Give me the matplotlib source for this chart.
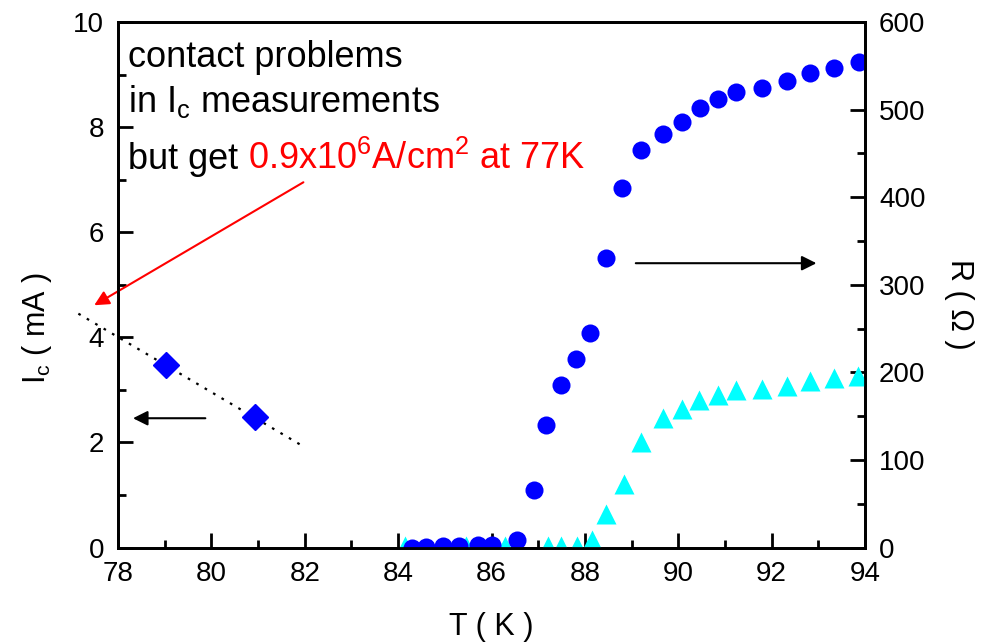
import numpy as np
import matplotlib
matplotlib.use('Agg')
from matplotlib import pyplot as plt
from matplotlib.ticker import MultipleLocator

plt.rcParams['font.family'] = ['Liberation Sans', 'DejaVu Sans']
plt.rcParams['mathtext.fontset'] = 'custom'
plt.rcParams['mathtext.rm'] = 'Liberation Sans'
plt.rcParams['mathtext.it'] = 'Liberation Sans:italic'

# Ic measurements (left axis, mA)
T_ic = [79.02, 80.93]
Ic = [3.48, 2.48]
# dotted guide line through the Ic points
T_fit = [77.15, 81.9]
Ic_fit = [4.45, 1.96]

# resistance, circles (right axis, Ohm)
T_r1 = [84.3, 84.6, 84.95, 85.3, 85.7, 86.0, 86.55,
        86.9, 87.16, 87.48, 87.8, 88.1, 88.45, 88.8, 89.2, 89.67, 90.08,
        90.46, 90.85, 91.23, 91.8, 92.33, 92.83, 93.33, 93.87]
R1 = [0, 1, 2, 2, 3, 3, 9,
      66, 140, 186, 215, 245, 330, 410, 454, 472, 486,
      502, 512, 520, 525, 533, 542, 548, 554]

# resistance, triangles (right axis, Ohm)
T_r2 = [84.14, 85.45, 86.28, 86.55, 87.2, 87.48, 87.83, 88.15,
        88.46, 88.83, 89.2, 89.67, 90.09, 90.45, 90.85, 91.23, 91.8,
        92.33, 92.83, 93.33, 93.85]
R2 = [2, 2, 2, 2, 2, 2, 2, 9,
      38, 73, 120, 148, 158, 168, 174, 180, 181,
      184, 190, 193, 196]

fig = plt.figure(figsize=(9.87, 6.43), dpi=100)
ax = fig.add_axes([0.1196, 0.1485, 0.7568, 0.8173])
ax2 = ax.twinx()

ax.plot(T_fit, Ic_fit, color='k', ls=(0, (1.2, 3.2)), lw=1.6, clip_on=False)
ax.plot(T_ic, Ic, 'D', color='#0000ff', ms=13, mec='#0000ff')

ax2.plot(T_r2, R2, '^', color='#00ffff', ms=15, mec='none')
ax2.plot(T_r1, R1, 'o', color='#0000ff', ms=13, mec='none')

ax.set_xlim(78, 94)
ax.set_ylim(0, 10)
ax2.set_ylim(0, 600)

ax.xaxis.set_major_locator(MultipleLocator(2))
ax.xaxis.set_minor_locator(MultipleLocator(1))
ax.yaxis.set_major_locator(MultipleLocator(2))
ax.yaxis.set_minor_locator(MultipleLocator(1))
ax2.yaxis.set_major_locator(MultipleLocator(100))
ax2.yaxis.set_minor_locator(MultipleLocator(50))

for a in (ax, ax2):
    for s in a.spines.values():
        s.set_linewidth(2)
    a.tick_params(which='major', direction='in', length=11, width=2,
                  labelsize=20, pad=10)
    a.tick_params(which='minor', direction='in', length=6, width=2)
ax.tick_params(which='both', top=False, right=False)
ax2.tick_params(which='both', top=False, left=False)

ax.set_xlabel('T ( K )', fontsize=22, labelpad=18)
ax.set_ylabel(r'I$_\mathrm{c}$ ( mA )', fontsize=22, labelpad=14)
ax2.set_ylabel('R ( Ω )', fontsize=22, rotation=270, labelpad=35)
ax.yaxis.label.set_y(0.418)
ax2.yaxis.label.set_y(0.462)

# arrows
ax.annotate('', xy=(78.32, 2.46), xytext=(79.87, 2.46),
            arrowprops=dict(arrowstyle='-|>', color='k', lw=1.5,
                            mutation_scale=22, shrinkA=0, shrinkB=0))
ax.annotate('', xy=(92.96, 5.41), xytext=(89.09, 5.41),
            arrowprops=dict(arrowstyle='-|>', color='k', lw=1.5,
                            mutation_scale=22, shrinkA=0, shrinkB=0))
ax.annotate('', xy=(77.49, 4.61), xytext=(81.97, 6.95),
            arrowprops=dict(arrowstyle='-|>', color='#ff0000', lw=1.5,
                            mutation_scale=22, shrinkA=0, shrinkB=0),
            annotation_clip=False)

fs = 26
ax.text(0.0134, 0.915, 'contact problems', transform=ax.transAxes,
        fontsize=fs, va='baseline')
ax.text(0.0134, 0.829, r'in I$_\mathrm{c}$ measurements', transform=ax.transAxes,
        fontsize=fs, va='baseline')
t3 = ax.text(0.0134, 0.720, 'but get ', transform=ax.transAxes,
             fontsize=fs, va='baseline')
fig.canvas.draw()
bb = t3.get_window_extent().transformed(ax.transAxes.inverted())
ax.text(bb.x1, 0.720, r'0.9x10$^6$A/cm$^2$ at 77K', transform=ax.transAxes,
        fontsize=fs, va='baseline', color='#ff0000')

fig.savefig('out.png', dpi=100)
